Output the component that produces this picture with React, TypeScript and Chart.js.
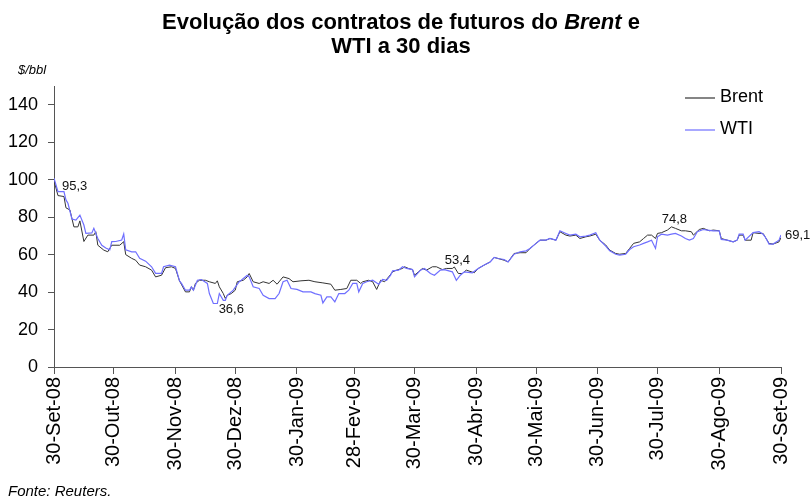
import React, { useEffect, useRef } from "react";
import { Chart, registerables } from "chart.js";

Chart.register(...registerables);

const FONT = "'Liberation Sans', Arial, Helvetica, sans-serif";

// X axis: days since 30-Set-08, with monthly tick labels
const tickDays = [0, 30, 61, 91, 122, 151, 181, 212, 242, 273, 303, 334, 365];
const tickLabels = [
  "30-Set-08", "30-Out-08", "30-Nov-08", "30-Dez-08", "30-Jan-09", "28-Fev-09",
  "30-Mar-09", "30-Abr-09", "30-Mai-09", "30-Jun-09", "30-Jul-09", "30-Ago-09", "30-Set-09",
];
// Y axis tick values
const yTicks = [0, 20, 40, 60, 80, 100, 120, 140];

// Brent ($/bbl)
const brentDays = [
  0, 2, 5, 6, 8, 10, 12, 13, 15, 17, 20, 21, 22, 25, 27, 29, 33, 35, 36, 39, 41, 43, 46, 49, 51, 54, 56, 59, 61, 63,
  66, 68, 69, 70, 71, 73, 76, 78, 81, 82, 83, 85, 86, 87, 89, 91, 92, 95, 97, 98, 100, 103, 105, 108, 110, 112, 115,
  118, 120, 124, 128, 131, 135, 139, 141, 144, 147, 149, 152, 154, 155, 158, 160, 162, 164, 166, 168, 170, 172, 175,
  176, 178, 180, 181, 183, 185, 187, 190, 192, 195, 197, 200, 201, 203, 205, 207, 211, 213, 216, 219, 221, 223, 226,
  228, 231, 234, 237, 239, 242, 244, 247, 249, 252, 254, 257, 259, 262, 264, 267, 269, 272, 274, 277, 279, 282, 284,
  287, 289, 291, 294, 296, 298, 300, 302, 303, 305, 308, 310, 312, 315, 317, 320, 321, 324, 326, 329, 331, 334, 335,
  338, 341, 343, 344, 346, 347, 350, 351, 354, 356, 357, 359, 361, 364, 365,
];
const brentValues = [
  99.5, 91.5, 91, 85, 83.8, 74.8, 74.8, 78, 67, 70.4, 70.4, 72.2, 65, 62.4, 61.5, 65, 65, 66.9, 60, 58, 57, 54.4, 53.5,
  51.7, 48.1, 49, 53, 53.5, 52.6, 46, 40.1, 40.1, 42.8, 41, 44.6, 46.3, 46.3, 45.5, 44.6, 46, 42.8, 39.2, 36.6, 38.3,
  39.2, 41, 45.5, 46.3, 48.1, 49.9, 45.5, 44.6, 45.5, 44.6, 46.3, 44.2, 48.1, 47.2, 45.5, 46, 46.3, 45.5, 44.9, 44.2,
  41, 41.4, 41.9, 46.3, 46.3, 44.6, 45.5, 46.3, 45.5, 41.4, 46.3, 45.5, 48.1, 50.8, 51.7, 52.6, 53.5, 52.6, 52, 49,
  50.8, 52.6, 51.7, 53.5, 53.5, 52, 52.6, 52.6, 53.4, 49.9, 49.9, 51.7, 50.3, 52.6, 54.4, 56.1, 58.5, 57.9, 57, 56.1,
  60.6, 61, 61, 63.3, 66, 67.7, 67.7, 68.6, 67.7, 72.2, 70.4, 69.9, 70.4, 68.6, 69.5, 69.9, 70.9, 67.7, 65.1, 62.4,
  60.6, 60.2, 60.6, 63.3, 66, 66.8, 68.6, 70.4, 70.4, 68.6, 71.3, 71.7, 73.1, 74.8, 74, 72.7, 72.7, 72.2, 70.4, 73.4,
  74, 72.7, 73.1, 72.7, 68.6, 67.7, 66.8, 67.7, 70.4, 70.4, 67.7, 67.7, 71.7, 71.3, 71.3, 69.5, 66, 65.6, 66.8, 69.1,
];

// WTI ($/bbl)
const wtiDays = [
  0, 2, 5, 6, 7, 9, 11, 13, 15, 16, 19, 20, 22, 24, 26, 28, 29, 31, 34, 35, 36, 39, 41, 43, 46, 49, 51, 54, 55, 58, 61,
  63, 64, 66, 68, 69, 70, 72, 74, 77, 78, 80, 82, 83, 85, 86, 87, 90, 93, 94, 97, 98, 100, 103, 105, 108, 111, 113,
  115, 117, 119, 122, 125, 129, 131, 134, 135, 137, 139, 141, 143, 146, 148, 150, 152, 153, 155, 157, 160, 163, 165,
  167, 169, 170, 173, 175, 177, 180, 181, 184, 186, 189, 191, 194, 196, 200, 202, 204, 206, 210, 213, 216, 219, 221,
  223, 226, 228, 231, 234, 237, 239, 242, 244, 247, 249, 252, 254, 257, 259, 262, 264, 267, 269, 272, 274, 277, 279,
  282, 284, 287, 289, 291, 294, 296, 298, 300, 302, 303, 305, 308, 310, 312, 315, 317, 319, 321, 323, 326, 328, 331,
  334, 335, 338, 341, 343, 344, 346, 347, 351, 354, 356, 357, 358, 359, 361, 364, 365,
];
const wtiValues = [
  100.8, 93.6, 93.6, 89.2, 87.4, 79, 78.4, 81.1, 75.8, 71.3, 71.6, 74, 68.6, 65, 63.5, 62.5, 66.9, 67, 67.8, 71, 62.5,
  61.5, 61.5, 58, 56.5, 53.5, 50, 50, 53.5, 54.4, 53.5, 46, 44.6, 41, 41, 42.8, 41, 46.3, 46.7, 44.6, 39.2, 33.9, 33.9,
  39.2, 35.6, 35.6, 38.3, 41, 45.5, 46.3, 49, 48.1, 42.8, 41.9, 38.3, 36.5, 36.5, 39.2, 45.5, 46.3, 41.9, 41.4, 40.1,
  40.1, 39.2, 38.3, 34.2, 37.4, 37.4, 34.8, 39.2, 39.2, 41, 44.6, 44.6, 40.1, 44.6, 45.5, 46.3, 44.2, 46.7, 46.3, 49,
  51.3, 51.7, 53.5, 52.6, 52, 48.1, 51.7, 52.6, 49.9, 49, 51.7, 52, 50.8, 46.3, 49, 50.8, 50.3, 52.6, 54.4, 56.1, 58.5,
  57.9, 57.4, 56.1, 60.2, 61.5, 62, 63.3, 66, 67.7, 67.7, 68.6, 67.7, 72.7, 71.3, 70.4, 70.9, 69.5, 69.9, 70.4, 71.7,
  67.7, 64.5, 62, 60.2, 59.7, 60.2, 62.7, 64.2, 65.1, 66, 66.8, 67.7, 63.3, 69.5, 70.9, 70.4, 70.9, 71.3, 69.9, 68.6,
  67.7, 68.6, 72.2, 73.4, 73.1, 72.7, 72.7, 68.1, 67.7, 66.8, 67.7, 70.9, 70.9, 67.7, 71.7, 72.2, 70.9, 69.5, 67.7,
  65.6, 65.6, 67.7, 70.5,
];

// Highlighted value labels (anchored on data day / value)
const labelDays = [2, 86, 201, 310, 365];
const labelValues = [95.3, 36.6, 53.4, 74.8, 69.1];
const labelTexts = ["95,3", "36,6", "53,4", "74,8", "69,1"];
const labelPlacement = ["right", "below", "above", "above", "right"];

const seriesNames = ["Brent", "WTI"];
const seriesColors = ["#333333", "#6f6fff"];

export default function App() {
  const canvasRef = useRef<HTMLCanvasElement | null>(null);

  useEffect(() => {
    const canvas = canvasRef.current;
    if (!canvas) return;

    const overlay = {
      id: "overlay",
      afterDraw(chart: any) {
        const ctx = chart.ctx as CanvasRenderingContext2D;
        ctx.save();
        ctx.fillStyle = "#000";

        // Title (two lines, "Brent" in italics)
        ctx.textBaseline = "alphabetic";
        ctx.textAlign = "left";
        const segs: [string, boolean][] = [
          ["Evolução dos contratos de futuros do ", false],
          ["Brent", true],
          [" e", false],
        ];
        const fontFor = (it: boolean) => `${it ? "italic " : ""}bold 22px ${FONT}`;
        let total = 0;
        const widths = segs.map(([t, it]) => {
          ctx.font = fontFor(it);
          const w = ctx.measureText(t).width;
          total += w;
          return w;
        });
        let tx = 401 - total / 2;
        segs.forEach(([t, it], i) => {
          ctx.font = fontFor(it);
          ctx.fillText(t, tx, 29);
          tx += widths[i];
        });
        ctx.font = fontFor(false);
        ctx.textAlign = "center";
        ctx.fillText("WTI a 30 dias", 401, 53);

        // Unit label and source
        ctx.textAlign = "left";
        ctx.font = `italic 13px ${FONT}`;
        ctx.fillText("$/bbl", 18, 74);
        ctx.font = `italic 15px ${FONT}`;
        ctx.fillText("Fonte: Reuters.", 8, 496);

        // Legend
        ctx.textBaseline = "middle";
        ctx.font = `18px ${FONT}`;
        const legendY = [98, 130];
        seriesNames.forEach((name, i) => {
          ctx.strokeStyle = seriesColors[i];
          ctx.lineWidth = 1.2;
          ctx.beginPath();
          ctx.moveTo(685, legendY[i]);
          ctx.lineTo(715, legendY[i]);
          ctx.stroke();
          ctx.fillStyle = "#000";
          ctx.fillText(name, 720, legendY[i] - 1);
        });

        // Data labels
        const xs = chart.scales.x;
        const ys = chart.scales.y;
        ctx.font = `13px ${FONT}`;
        ctx.fillStyle = "#111";
        labelTexts.forEach((t, i) => {
          const px = xs.getPixelForValue(labelDays[i]);
          const py = ys.getPixelForValue(labelValues[i]);
          const p = labelPlacement[i];
          ctx.textBaseline = "middle";
          if (p === "right") {
            ctx.textAlign = "left";
            ctx.fillText(t, px + 4, py - 2);
          } else if (p === "below") {
            ctx.textAlign = "center";
            ctx.fillText(t, px + 6, py + 11);
          } else {
            ctx.textAlign = "center";
            ctx.fillText(t, px + 3, py - 7);
          }
        });
        ctx.restore();
      },
    };

    const chart = new Chart(canvas, {
      type: "line",
      data: {
        datasets: [
          {
            label: seriesNames[0],
            data: brentDays.map((d, i) => ({ x: d, y: brentValues[i] })),
            borderColor: seriesColors[0],
            backgroundColor: seriesColors[0],
            borderWidth: 1,
            pointRadius: 0,
            tension: 0,
            order: 1,
          },
          {
            label: seriesNames[1],
            data: wtiDays.map((d, i) => ({ x: d, y: wtiValues[i] })),
            borderColor: seriesColors[1],
            backgroundColor: seriesColors[1],
            borderWidth: 1.2,
            pointRadius: 0,
            tension: 0,
            order: 0,
          },
        ],
      },
      options: {
        animation: false,
        responsive: true,
        maintainAspectRatio: false,
        layout: { padding: { top: 86, right: 31, left: 0, bottom: 0 } },
        plugins: {
          legend: { display: false },
          title: { display: false },
          tooltip: { enabled: false },
        },
        scales: {
          x: {
            type: "linear",
            min: 0,
            max: 365,
            afterBuildTicks: (scale: any) => {
              scale.ticks = tickDays.map((v) => ({ value: v }));
            },
            afterFit: (scale: any) => {
              scale.height = 133;
            },
            ticks: {
              autoSkip: false,
              minRotation: 90,
              maxRotation: 90,
              padding: 3,
              color: "#000",
              font: { family: FONT, size: 20 },
              callback: (_v: any, index: number) => tickLabels[index],
            },
            grid: {
              display: true,
              drawOnChartArea: false,
              drawTicks: true,
              tickLength: 7,
              color: "#555",
            },
            border: { display: true, color: "#555", width: 1 },
          },
          y: {
            min: 0,
            max: 150,
            afterBuildTicks: (scale: any) => {
              scale.ticks = yTicks.map((v) => ({ value: v }));
            },
            afterFit: (scale: any) => {
              scale.width = 54;
            },
            ticks: {
              padding: 10,
              color: "#000",
              font: { family: FONT, size: 18 },
            },
            grid: {
              display: true,
              drawOnChartArea: false,
              drawTicks: true,
              tickLength: 6,
              color: "#555",
            },
            border: { display: true, color: "#555", width: 1 },
          },
        },
      },
      plugins: [overlay],
    });

    return () => chart.destroy();
  }, []);

  return (
    <div style={{ position: "absolute", left: 0, top: 0, width: 812, height: 500, background: "#fff" }}>
      <canvas ref={canvasRef} />
    </div>
  );
}
